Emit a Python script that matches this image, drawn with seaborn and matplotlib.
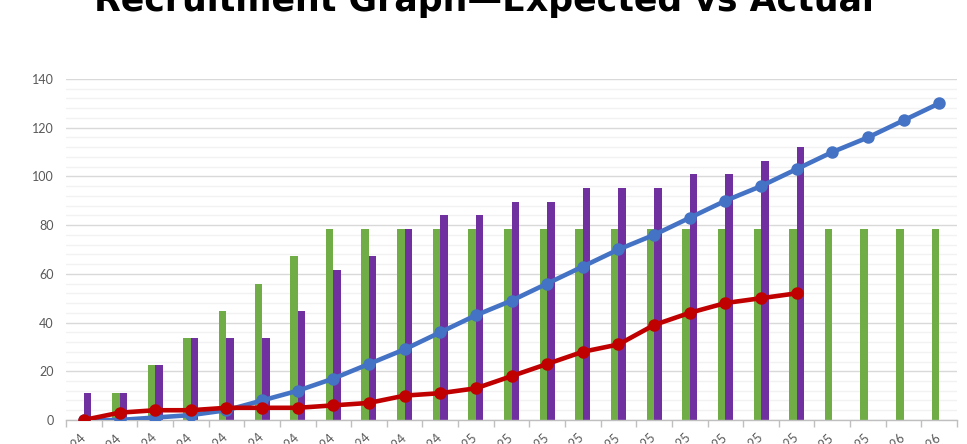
import numpy as np
import pandas as pd
import matplotlib
matplotlib.use("Agg")
import matplotlib.pyplot as plt
from matplotlib.ticker import MultipleLocator, FixedLocator
import seaborn as sns

# ── Data ──────────────────────────────────────────────────────────────────────
MONTHS = ["Feb-24", "Mar-24", "Apr-24", "May-24", "Jun-24", "Jul-24", "Aug-24",
          "Sep-24", "Oct-24", "Nov-24", "Dec-24", "Jan-25", "Feb-25", "Mar-25",
          "Apr-25", "May-25", "Jun-25", "Jul-25", "Aug-25", "Sep-25", "Oct-25",
          "Nov-25", "Dec-25", "Jan-26", "Feb-26"]

# green bars
PLANNED_SITES = [0, 11.2, 22.4, 33.6, 44.8, 56, 67.2, 78.4, 78.4, 78.4, 78.4,
                 78.4, 78.4, 78.4, 78.4, 78.4, 78.4, 78.4, 78.4, 78.4, 78.4,
                 78.4, 78.4, 78.4, 78.4]
# purple bars
OPEN_SITES = [11.2, 11.2, 22.4, 33.6, 33.6, 33.6, 44.8, 61.6, 67.2, 78.4, 84,
              84, 89.6, 89.6, 95.2, 95.2, 95.2, 100.8, 100.8, 106.4, 112,
              np.nan, np.nan, np.nan, np.nan]
# blue line
EXPECTED = [0, 0, 1, 2, 4, 8, 12, 17, 23, 29, 36, 43, 49, 56, 63, 70, 76, 83,
            90, 96, 103, 110, 116, 123, 130]
# red line
ACTUAL = [0, 3, 4, 4, 5, 5, 5, 6, 7, 10, 11, 13, 18, 23, 28, 31, 39, 44, 48,
          50, 52, np.nan, np.nan, np.nan, np.nan]

GREEN, PURPLE = "#70AD47", "#7030A0"
BLUE, RED = "#4472C4", "#C00000"
GREY_TXT = "#595959"

bars = pd.DataFrame({
    "Month": MONTHS * 2,
    "Series": ["Planned"] * len(MONTHS) + ["Open"] * len(MONTHS),
    "Value": PLANNED_SITES + OPEN_SITES,
})

# ── Plot ──────────────────────────────────────────────────────────────────────
sns.set_theme(style="white")
plt.rcParams["font.family"] = ["Lato", "DejaVu Sans"]

fig = plt.figure(figsize=(9.67, 4.44), dpi=100)
ax = fig.add_axes([0.0683, 0.0541, 0.9214, 0.768])
ax.set_axisbelow(True)

sns.barplot(data=bars, x="Month", y="Value", hue="Series", order=MONTHS,
            hue_order=["Planned", "Open"], palette=[GREEN, PURPLE],
            width=0.42, saturation=1, errorbar=None, linewidth=0,
            legend=False, ax=ax)

sns.pointplot(x=MONTHS, y=EXPECTED, order=MONTHS, color=BLUE, errorbar=None,
              linewidth=3.3, markersize=6.5, ax=ax, zorder=4)
sns.pointplot(x=MONTHS, y=ACTUAL, order=MONTHS, color=RED, errorbar=None,
              linewidth=3.3, markersize=6.5, ax=ax, zorder=5)

ax.set_xlim(-0.5, len(MONTHS) - 0.5)
ax.set_ylim(0, 140)
ax.yaxis.set_major_locator(MultipleLocator(20))
ax.yaxis.set_minor_locator(MultipleLocator(4))
ax.grid(axis="y", which="major", color="#D9D9D9", linewidth=1.0)
ax.grid(axis="y", which="minor", color="#F2F2F2", linewidth=1.0)
ax.grid(axis="x", which="both", visible=False)

# tick marks sit between the months
ax.xaxis.set_minor_locator(FixedLocator(np.arange(-0.5, len(MONTHS), 1)))
ax.tick_params(axis="x", which="major", length=0, pad=11, labelsize=9,
               labelcolor=GREY_TXT)
ax.tick_params(axis="x", which="minor", length=5, color="#BFBFBF", width=1,
               bottom=True)
ax.tick_params(axis="y", which="both", length=0, pad=9, labelsize=9,
               labelcolor=GREY_TXT)
for lbl in ax.get_xticklabels():
    lbl.set_rotation(45)
    lbl.set_ha("right")
    lbl.set_va("center")
    lbl.set_rotation_mode("anchor")

ax.set_xlabel("")
ax.set_ylabel("")
for side in ["top", "right", "left"]:
    ax.spines[side].set_visible(False)
ax.spines["bottom"].set_color("#BFBFBF")
ax.spines["bottom"].set_linewidth(1)

fig.text(0.5, 0.976, "Recruitment Graph\u2014Expected vs Actual",
         ha="center", va="baseline", fontsize=25, fontweight="bold",
         family=["DejaVu Sans"], color="black")

fig.savefig("out.png", dpi=100)
